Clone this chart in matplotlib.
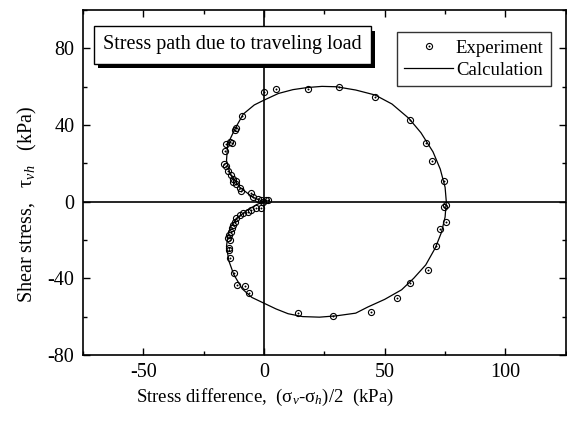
#!/usr/bin/env python3
"""
Stress path due to traveling load: measured points vs calculated curve.
"""

import matplotlib
matplotlib.use("Agg")
import matplotlib.pyplot as plt
import matplotlib.patheffects as pe
from matplotlib.legend_handler import HandlerTuple
from matplotlib.ticker import MultipleLocator


# ============================================================
# DATA
# ============================================================

# experiment: (sigma_v - sigma_h)/2 [kPa], tau_vh [kPa]
exp_x = [0.0, 4.8, 18.4, 30.9, 46.0, 60.5, 67.0, 69.7, 74.4,
         75.5, 74.5, 75.2, 72.7, 71.4, 68.1, 60.5, 55.0, 44.3, 28.7, 14.2,
         -9.0, -11.6, -11.8, -14.1, -13.4, -15.5, -16.2, -16.6, -15.8, -14.8,
         -13.8, -12.8, -12.8, -11.6, -11.4, -10.0, -9.3, -5.2, -4.5, -2.5,
         -1.1, 1.6, -0.4, 1.0, -1.1, -3.1, -5.2, -6.6, -8.6, -10.0,
         -11.4, -12.1, -13.0, -13.4, -13.8, -14.4, -14.8, -14.1, -14.5, -14.5,
         -14.1, -12.4, -11.0, -7.9, -6.2]
exp_y = [57.4, 58.9, 58.9, 59.7, 54.7, 42.5, 30.4, 21.4, 10.6,
         -1.6, -2.6, -10.8, -14.2, -23.4, -35.6, -42.7, -50.2, -57.6, -59.7, -58.3,
         44.8, 38.7, 37.3, 30.9, 30.4, 30.0, 26.2, 19.6, 18.8, 16.1,
         14.1, 11.8, 10.1, 10.9, 9.2, 7.1, 5.7, 4.3, 2.2, 1.4,
         0.9, 0.9, 0.0, 0.8, -3.5, -3.5, -4.4, -5.3, -6.1, -7.0,
         -8.7, -10.5, -12.2, -14.0, -15.7, -17.4, -19.2, -20.0, -24.4, -25.3,
         -29.6, -37.2, -43.5, -43.9, -47.8]

# calculation curve
calc_x = [0, -4.5, -10, -14, -15.5, -15, -12, -8.6, -4, 0,
          6, 12, 18, 24, 30, 38, 46, 53, 60, 65,
          70, 73, 75, 75.5, 75, 73.5, 71, 67, 62, 57,
          50, 43, 38, 30, 23, 16, 10, 5, 0, -5,
          -9, -12.5, -14.5, -15.5, -15, -13.8, -11, -7, -3, 0]
calc_y = [0, 2.2, 7.5, 14.5, 21.5, 30, 38, 45.7, 50.5, 53,
          56.5, 58.5, 59.6, 60.2, 60, 58.3, 55.7, 51, 43.5, 36,
          26, 17, 7.5, 0, -8, -16, -24, -33, -40, -46,
          -51, -55, -58.2, -59.6, -60.3, -60, -58.5, -56, -53, -50,
          -45.5, -38, -31, -23.5, -18, -13, -8.5, -4.5, -1.5, 0]


# ============================================================
# STYLE
# ============================================================

plt.rcParams["font.family"] = ["Liberation Serif", "DejaVu Serif"]
plt.rcParams["mathtext.fontset"] = "custom"
plt.rcParams["mathtext.rm"] = "Liberation Serif"
plt.rcParams["mathtext.it"] = "Liberation Serif:italic"
plt.rcParams["axes.unicode_minus"] = False


# ============================================================
# PLOT
# ============================================================

fig = plt.figure(figsize=(5.67, 4.23), dpi=100)
ax = fig.add_axes([0.146, 0.161, 0.852, 0.815])

ax.axhline(0, color="black", linewidth=1.2, zorder=1)
ax.axvline(0, color="black", linewidth=1.2, zorder=1)

calc_line, = ax.plot(calc_x, calc_y, color="black", linewidth=0.9, zorder=2)
exp_ring, = ax.plot(exp_x, exp_y, linestyle="none", marker="o", markersize=4.4,
                    markerfacecolor="none", markeredgecolor="black",
                    markeredgewidth=0.8, zorder=3)
exp_dot, = ax.plot(exp_x, exp_y, linestyle="none", marker="o", markersize=1.0,
                   markerfacecolor="black", markeredgecolor="black",
                   markeredgewidth=0.3, zorder=3)

ax.set_xlim(-75, 125)
ax.set_ylim(-80, 100)
ax.xaxis.set_major_locator(MultipleLocator(50))
ax.xaxis.set_minor_locator(MultipleLocator(25))
ax.yaxis.set_minor_locator(MultipleLocator(20))
ax.set_yticks([-80, -40, 0, 40, 80])

ax.tick_params(which="both", direction="in", top=True, right=True,
               labelsize=14.5, width=1.0)
ax.tick_params(which="major", length=5, pad=6)
ax.tick_params(which="minor", length=2.8)
for sp in ax.spines.values():
    sp.set_linewidth(1.2)

ax.set_xlabel("Stress difference,  (σ$_v$-σ$_h$)/2  (kPa)", fontsize=13.5)
ax.set_ylabel("Shear stress,   τ$_{vh}$   (kPa)", fontsize=14.5)
ax.xaxis.set_label_coords(0.376, -0.093)
ax.yaxis.set_label_coords(-0.09, 0.436)

# title box with drop shadow
title_txt = ax.text(0.31, 0.899, "Stress path due to traveling load",
                    transform=ax.transAxes, ha="center", va="center",
                    fontsize=14.5, color="black", zorder=6,
                    bbox=dict(boxstyle="square,pad=0.45", facecolor="white",
                              edgecolor="black", linewidth=1.0))
title_txt.get_bbox_patch().set_path_effects([
    pe.SimplePatchShadow(offset=(3, -3), shadow_rgbFace="black", alpha=1.0),
    pe.Normal(),
])

leg = ax.legend([(exp_ring, exp_dot), calc_line], ["Experiment", "Calculation"],
                handler_map={tuple: HandlerTuple(ndivide=1, pad=0)},
                loc="upper right", bbox_to_anchor=(0.9696, 0.936),
                borderaxespad=0, fontsize=13.5, frameon=True, fancybox=False,
                shadow=False, handlelength=2.6, handletextpad=0.15,
                labelspacing=0.25, borderpad=0.4)
leg.get_frame().set_edgecolor("black")
leg.get_frame().set_linewidth(1.0)
leg.set_zorder(7)

fig.savefig("out.png", dpi=100)
